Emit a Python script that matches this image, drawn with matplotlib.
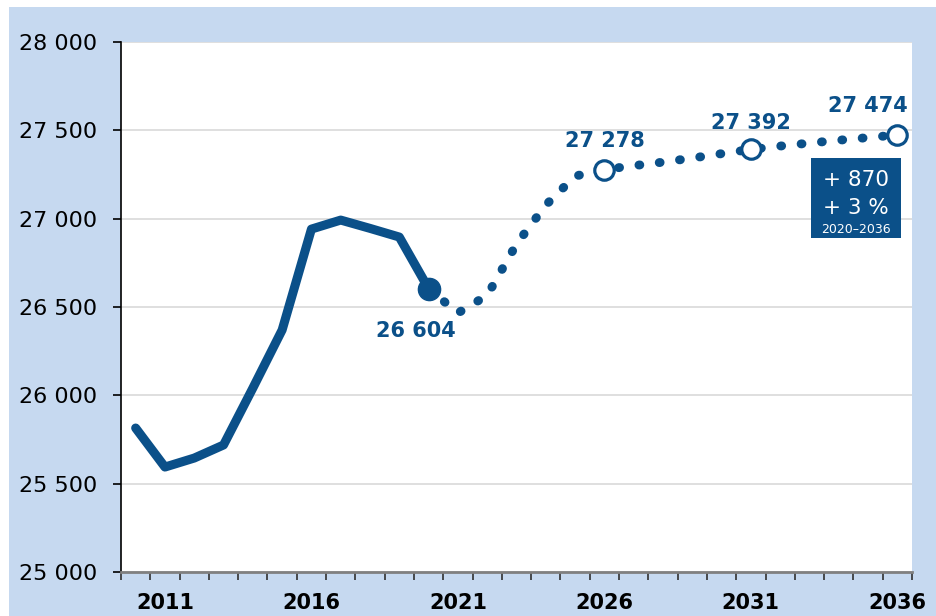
import matplotlib
matplotlib.use("Agg")
import matplotlib.pyplot as plt
from matplotlib.patches import Rectangle

# Dados
anos_hist = list(range(2010, 2021))
valores_hist = [25815, 25594, 25645, 25719, 26041, 26370, 26941, 26992, 26945, 26896, 26604]

anos_proj = list(range(2020, 2037))
valores_proj = [26604, 26466, 26566, 26856, 27077, 27241, 27278, 27300, 27320, 27343, 27368,
                27392, 27411, 27428, 27444, 27459, 27474]

anos_destaque = [2026, 2031, 2036]
valores_destaque = [27278, 27392, 27474]

rotulos_x = [2011, 2016, 2021, 2026, 2031, 2036]
rotulos_y = [25000, 25500, 26000, 26500, 27000, 27500, 28000]

azul = "#0b5089"
fundo = "#c6d9f0"

def fmt(v):
    return f"{v:,}".replace(",", " ")

fig = plt.figure(figsize=(9.36, 6.16), dpi=100, facecolor="white")
fig.patches.append(Rectangle((9 / 936, 0), 1, 1 - 7 / 616, transform=fig.transFigure,
                             facecolor=fundo, edgecolor="none", zorder=-10))

ax = fig.add_axes([121 / 936, 44 / 616, 791 / 936, 530 / 616])
ax.set_facecolor("white")

# Linha historica
ax.plot(anos_hist, valores_hist, color=azul, lw=6.5, solid_joinstyle="round",
        solid_capstyle="round", zorder=3)

# Projecao pontilhada
ax.plot(anos_proj, valores_proj, color=azul, lw=6.4, linestyle=(0, (0.1, 2.2)),
        dash_capstyle="round", zorder=3)

ax.plot([anos_hist[-1]], [valores_hist[-1]], "o", color=azul, markersize=16, zorder=5)
ax.plot(anos_destaque, valores_destaque, "o", markerfacecolor="white", markeredgecolor=azul,
        markersize=14, markeredgewidth=2.3, zorder=5)

# Rotulos
ax.annotate(fmt(valores_hist[-1]), (anos_hist[-1], valores_hist[-1]), xytext=(-9.5, -35),
            textcoords="offset points", ha="center", va="baseline", fontsize=15,
            fontweight="bold", color=azul, zorder=6)
deslocamentos = [(0, 16), (0, 15), (-21, 16.5)]
for ano, valor, (dx, dy) in zip(anos_destaque, valores_destaque, deslocamentos):
    ax.annotate(fmt(valor), (ano, valor), xytext=(dx, dy), textcoords="offset points",
                ha="center", va="baseline", fontsize=15, fontweight="bold", color=azul, zorder=6)

# Caixa de variacao
ax.add_patch(Rectangle((0.872, 0.630), 0.114, 0.151, transform=ax.transAxes,
                       facecolor=azul, edgecolor="none", zorder=6, clip_on=False))
ax.text(0.929, 0.728, "+ 870", transform=ax.transAxes, ha="center", va="baseline",
        fontsize=15.5, color="white", zorder=7)
ax.text(0.929, 0.675, "+ 3 %", transform=ax.transAxes, ha="center", va="baseline",
        fontsize=15.5, color="white", zorder=7)
ax.text(0.929, 0.640, "2020–2036", transform=ax.transAxes, ha="center", va="baseline",
        fontsize=9, color="white", zorder=7)

# Eixos
ax.set_xlim(2009.5, 2036.5)
ax.set_ylim(25000, 28000)
ax.set_yticks(rotulos_y)
ax.set_yticklabels([fmt(v) for v in rotulos_y], fontsize=16)
ax.set_xticks(rotulos_x)
ax.set_xticklabels([str(a) for a in rotulos_x], fontsize=15, fontweight="bold")
ax.set_xticks([a + 0.5 for a in range(2009, 2037)], minor=True)
ax.tick_params(axis="x", which="major", length=0, pad=15)
ax.tick_params(axis="x", which="minor", length=6, width=1.2, color="#303030", direction="out")
ax.tick_params(axis="y", length=6, width=1.2, pad=11, direction="out")
ax.grid(axis="y", color="#d9d9d9", lw=1.2, zorder=0)
ax.set_axisbelow(True)

for lado in ["top", "right"]:
    ax.spines[lado].set_visible(False)
ax.spines["left"].set_linewidth(1.2)
ax.spines["bottom"].set_color("#808080")
ax.spines["bottom"].set_linewidth(2)

fig.savefig("out.png", dpi=100, facecolor=fig.get_facecolor())
